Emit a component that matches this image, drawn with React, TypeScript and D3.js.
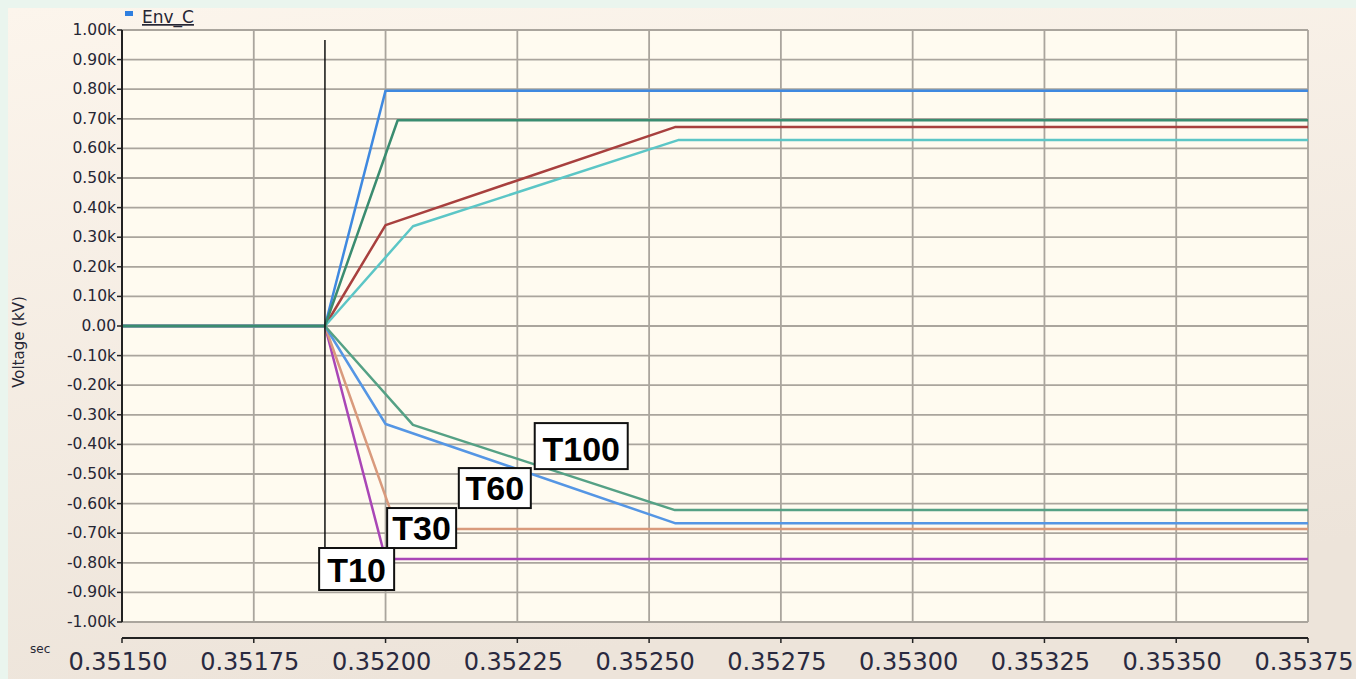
import * as d3 from "d3";

// Series data: time (sec) and voltage (kV * 1000 -> shown as "k")
const startT = 0.3515;
const endT = 0.35375;
const faultT = 0.351885;

const bluePosT = [startT, faultT, 0.352, endT];
const bluePosV = [0, 0, 0.795, 0.795];

const greenPosT = [startT, faultT, 0.352023, endT];
const greenPosV = [0, 0, 0.695, 0.695];

const redPosT = [startT, faultT, 0.352, 0.352549, endT];
const redPosV = [0, 0, 0.341, 0.672, 0.672];

const cyanPosT = [startT, faultT, 0.352052, 0.352555, endT];
const cyanPosV = [0, 0, 0.337, 0.628, 0.628];

const greenNegT = [startT, faultT, 0.352052, 0.352549, endT];
const greenNegV = [0, 0, -0.334, -0.622, -0.622];

const blueNegT = [startT, faultT, 0.352, 0.352549, endT];
const blueNegV = [0, 0, -0.331, -0.666, -0.666];

const orangeNegT = [startT, faultT, 0.352022, endT];
const orangeNegV = [0, 0, -0.686, -0.686];

const purpleNegT = [startT, faultT, 0.352, endT];
const purpleNegV = [0, 0, -0.787, -0.787];

const xTicks = [0.3515, 0.35175, 0.352, 0.35225, 0.3525, 0.35275, 0.353, 0.35325, 0.3535, 0.35375];
const yTicks = d3.range(-10, 11).map((i) => i / 10);

const labelNames = ["T100", "T60", "T30", "T10"];
const labelT = [0.352283, 0.352139, 0.352003, 0.351874];
const labelV = [-0.328, -0.48, -0.615, -0.75];

const series = [
  { t: bluePosT, v: bluePosV, color: "#3f89e0" },
  { t: redPosT, v: redPosV, color: "#a8403e" },
  { t: cyanPosT, v: cyanPosV, color: "#5cc6c6" },
  { t: purpleNegT, v: purpleNegV, color: "#a946b6" },
  { t: orangeNegT, v: orangeNegV, color: "#d99a7c" },
  { t: blueNegT, v: blueNegV, color: "#5596e4" },
  { t: greenNegT, v: greenNegV, color: "#55a185" },
  { t: greenPosT, v: greenPosV, color: "#3a8c70" },
];

const labelBox = [
  { w: 93, h: 46 },
  { w: 72, h: 40 },
  { w: 69, h: 40 },
  { w: 75, h: 42 },
];

export default function App() {
  const width = 1356;
  const height = 679;
  const left = 122;
  const right = 1308;
  const top = 30;
  const bottom = 622;

  const x = d3.scaleLinear().domain([startT, endT]).range([left, right]);
  const y = d3.scaleLinear().domain([-1, 1]).range([bottom, top]);

  const line = d3
    .line<[number, number]>()
    .x((d) => x(d[0]))
    .y((d) => y(d[1]));

  const yFmt = (v: number) => (Math.abs(v) < 1e-9 ? "0.00" : `${v.toFixed(2)}k`);
  const axisY = 638;

  return (
    <svg
      width={width}
      height={height}
      style={{ position: "absolute", left: 0, top: 0, fontFamily: "DejaVu Sans, sans-serif" }}
    >
      <defs>
        <linearGradient id="panel" x1="0" y1="0" x2="0.3" y2="1">
          <stop offset="0" stopColor="#fcf5ec" />
          <stop offset="1" stopColor="#ede4da" />
        </linearGradient>
      </defs>
      <rect width={width} height={height} fill="#eaf5ee" />
      <rect x={8} y={8} width={width - 8} height={height - 8} fill="url(#panel)" />
      <rect x={left} y={top} width={right - left} height={bottom - top} fill="#fffbf0" />

      {/* grid */}
      {yTicks.map((v) => (
        <line key={"gy" + v} x1={left} x2={right} y1={y(v)} y2={y(v)} stroke="#aaa59d" strokeWidth={1.8} />
      ))}
      {xTicks.map((t) => (
        <line key={"gx" + t} x1={x(t)} x2={x(t)} y1={top} y2={bottom} stroke="#aaa59d" strokeWidth={1.8} />
      ))}

      {/* series */}
      {series.map((s, i) => (
        <path
          key={"s" + i}
          d={line(s.t.map((t, j) => [t, s.v[j]] as [number, number])) || ""}
          fill="none"
          stroke={s.color}
          strokeWidth={2.5}
          strokeLinejoin="round"
        />
      ))}

      {/* y axis */}
      <line x1={left} x2={left} y1={top} y2={bottom} stroke="#222" strokeWidth={2} />
      {yTicks.map((v) => (
        <g key={"ty" + v}>
          <line x1={left - 5} x2={left} y1={y(v)} y2={y(v)} stroke="#222" strokeWidth={1.5} />
          <text x={left - 6} y={y(v) + 5} textAnchor="end" fontSize={15.5} fill="#262634">
            {yFmt(v)}
          </text>
        </g>
      ))}
      <text
        transform={`translate(24,342) rotate(-90)`}
        textAnchor="middle"
        fontSize={15}
        fill="#262634"
      >
        Voltage (kV)
      </text>

      {/* x axis */}
      <line x1={left} x2={right} y1={axisY} y2={axisY} stroke="#222" strokeWidth={2} />
      {xTicks.map((t) => (
        <g key={"tx" + t}>
          <line x1={x(t)} x2={x(t)} y1={axisY} y2={axisY + 5} stroke="#222" strokeWidth={1.5} />
          <text x={x(t) - 4} y={670} textAnchor="middle" fontSize={24} fill="#2a2a40">
            {t.toFixed(5)}
          </text>
        </g>
      ))}
      <text x={30} y={653} fontSize={12} fill="#262634">
        sec
      </text>

      {/* legend */}
      <rect x={125} y={11} width={8} height={5} fill="#2f7fe0" />
      <text x={142} y={23} fontSize={17} fill="#262634" textDecoration="underline">
        Env_C
      </text>

      {/* cursor */}
      <line x1={x(faultT)} x2={x(faultT)} y1={40} y2={590} stroke="#111" strokeWidth={1.5} />

      {/* labels */}
      {labelNames.map((name, i) => {
        const bx = x(labelT[i]);
        const by = y(labelV[i]);
        const { w, h } = labelBox[i];
        return (
          <g key={name}>
            <rect x={bx} y={by} width={w} height={h} fill="#ffffff" stroke="#111" strokeWidth={2} />
            <text
              x={bx + w / 2}
              y={by + h - 8}
              textAnchor="middle"
              fontSize={34}
              fontWeight="bold"
              fontFamily="Liberation Sans, Arial, sans-serif"
              fill="#000"
            >
              {name}
            </text>
          </g>
        );
      })}
    </svg>
  );
}
